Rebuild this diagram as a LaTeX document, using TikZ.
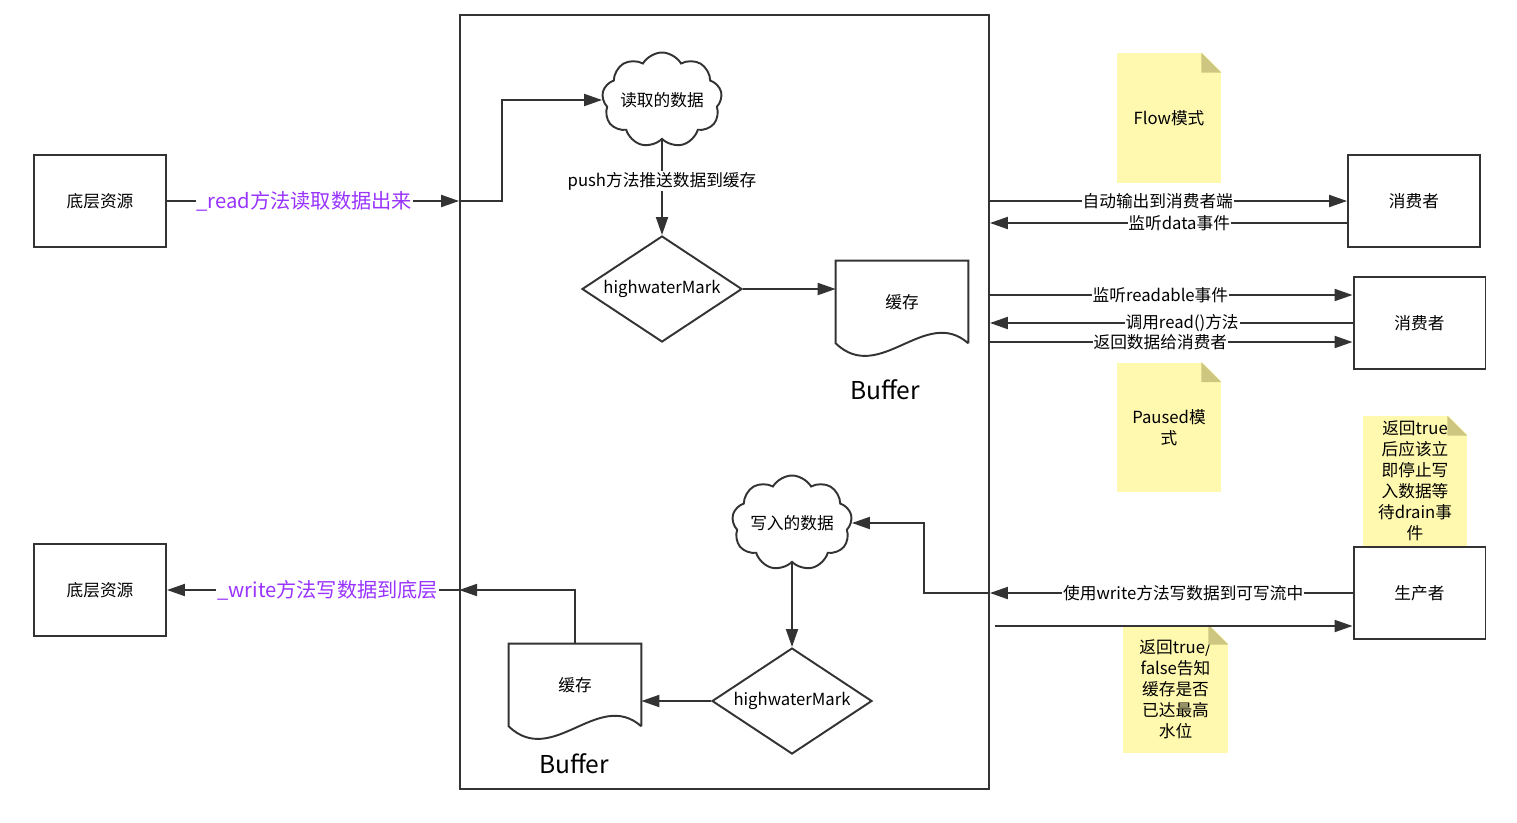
\documentclass[tikz,border=0pt]{standalone}
\usepackage{fontspec}
\setmainfont{Noto Sans CJK SC}
\usetikzlibrary{arrows.meta,shapes.geometric,shapes.symbols,calc}
\definecolor{linegray}{RGB}{51,51,51}
\definecolor{notefill}{RGB}{255,249,176}
\definecolor{notefold}{RGB}{205,198,128}
\definecolor{callpurple}{RGB}{153,51,255}
\tikzset{px/.style={x={(0.02cm,0cm)},y={(0cm,-0.02cm)}}}
\tikzset{wire/.style={draw=linegray, line width=1.1pt},
	arr/.style={wire, ->},
	txt/.style={font=\fontsize{9.5}{12}\selectfont},
	box/.style={wire, txt, minimum width=2.64cm, minimum height=1.84cm},
	streambox/.style={wire, minimum width=10.58cm, minimum height=15.48cm},
	blob/.style={cloud, cloud puffs=9, cloud puff arc=120, cloud ignores aspect, wire, txt, minimum width=2.4cm, minimum height=1.9cm, inner sep=0pt},
	decision/.style={diamond, wire, txt, minimum width=3.2cm, minimum height=2.12cm, inner sep=0pt},
	doc/.style={txt, minimum width=2.64cm, minimum height=1.64cm},
	buflbl/.style={font=\fontsize{14}{17}\selectfont},
	note/.style={fill=notefill, txt, align=center, inner sep=0pt, minimum width=2.08cm, minimum height=2.6cm},
	lbl/.style={txt, fill=white, inner sep=0.5pt, pos=0.47},
	calllbl/.style={lbl, text=callpurple, font=\fontsize{11.5}{14}\selectfont}}
% coin replie d'une note
\newcommand{\notefold}[1]{%
	\fill[white] ($(#1.north east)+(-20,-1)$) -- ($(#1.north east)+(1,-1)$) -- ($(#1.north east)+(1,20)$) -- cycle;
	\fill[notefold] ($(#1.north east)+(-20,0)$) -- ($(#1.north east)+(-20,20)$) -- ($(#1.north east)+(0,20)$) -- cycle;}
% contour du document (bas ondule)
\newcommand{\docwave}[1]{%
	\draw[wire] (#1.south east) -- (#1.north east) -- (#1.north west) -- (#1.south west)
		.. controls +(44,42) and +(-43,-38) .. (#1.south east);}

\begin{document}
\begin{tikzpicture}[px, >={Triangle[length=0.36cm,width=0.24cm]}]
	\useasboundingbox (0,0) rectangle (1517,822);
	% les notes jaunes
	\node[note] (flow) at (1169,118) {Flow模式};
	\node[note] (paused) at (1169,427.5) {Paused模\\式};
	\node[note] (drain) at (1415,481) {返回true\\后应该立\\即停止写\\入数据等\\待drain事\\件};
	\node[note, minimum width=2.1cm, minimum height=2.56cm] (ack) at (1175.5,689) {返回true/\\false告知\\缓存是否\\已达最高\\水位};
	\notefold{flow} \notefold{paused} \notefold{drain} \notefold{ack}
	% le flux
	\node[streambox] (stream) at (724.5,402) {};
	% ressources, consommateurs, producteur
	\node[box] (res1) at (100,201) {底层资源};
	\node[box] (res2) at (100,590) {底层资源};
	\node[box] (cons1) at (1414,201) {消费者};
	\node[box] (cons2) at (1419.5,323) {消费者};
	\node[box] (prod) at (1419.5,593) {生产者};
	% cote lecture
	\node[blob] (rdata) at (662,100) {\makebox[0pt]{读取的数据}};
	\node[decision] (rmark) at (662,289) {\makebox[0pt]{highwaterMark}};
	\node[doc] (rcache) at (902,302) {缓存}; \docwave{rcache}
	\node[buflbl] (rbuf) at (885,390) {Buffer};
	% cote ecriture
	\node[blob] (wdata) at (792,523) {\makebox[0pt]{写入的数据}};
	\node[decision] (wmark) at (792,701) {\makebox[0pt]{highwaterMark}};
	\node[doc] (wcache) at (575,685) {缓存}; \docwave{wcache}
	\node[buflbl] (wbuf) at (574,764) {Buffer};
	% lecture
	\draw[arr] (res1) -- node[calllbl]{\_read方法读取数据出来} (res1 -| stream.west);
	\draw[arr] (res1 -| stream.west) -- ++(43,0) |- (rdata);
	\draw[arr] (rdata) -- node[lbl, pos=0.43]{push方法推送数据到缓存} (rmark);
	\draw[arr] (rmark.east) -- (rmark.east -| rcache.west);
	% mode flow
	\draw[arr] (cons1 -| stream.east) -- node[lbl]{自动输出到消费者端} (cons1.west);
	\coordinate (dataev) at ($(cons1.west)+(0,22)$);
	\draw[arr] (dataev) -- node[lbl]{监听data事件} (dataev -| stream.east);
	% mode paused
	\coordinate (rdable) at ($(cons2.west)+(0,-28)$);
	\draw[arr] (rdable -| stream.east) -- node[lbl]{监听readable事件} (rdable);
	\draw[arr] (cons2.west) -- node[lbl]{调用read()方法} (cons2.west -| stream.east);
	\coordinate (back) at ($(cons2.west)+(0,19)$);
	\draw[arr] (back -| stream.east) -- node[lbl]{返回数据给消费者} (back);
	% ecriture
	\draw[arr] (prod) -- node[lbl, pos=0.467]{使用write方法写数据到可写流中} (prod -| stream.east);
	\draw[arr] (prod -| stream.east) -- ++(-66,0) |- (wdata);
	\coordinate (ackout) at ($(prod.west)+(-358,33)$);
	\draw[arr] (ackout) -- (ackout -| prod.west);
	\draw[arr] (wdata) -- (wmark);
	\draw[arr] (wmark.west) -- (wmark.west -| wcache.east);
	\draw[arr] (wcache.north) |- (res2 -| stream.west);
	\draw[arr] (res2 -| stream.west) -- node[calllbl, pos=0.45]{\_write方法写数据到底层} (res2);
\end{tikzpicture}
\end{document}
